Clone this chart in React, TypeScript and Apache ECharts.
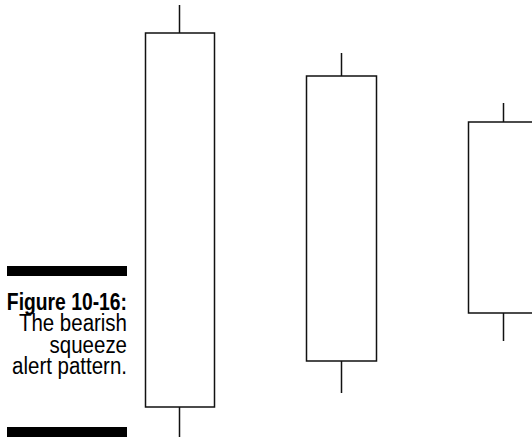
import React, { useEffect, useRef } from "react";
import * as echarts from "echarts";

const categories = ["Day 1", "Day 2", "Day 3"];
// [open, close, low, high]
const candleValues: number[][] = [
  [3.3, 40.7, 0.3, 43.5],
  [7.9, 36.4, 4.7, 38.7],
  [12.7, 31.8, 9.9, 33.7],
];
const captionBold = "Figure 10-16:";
const captionLines = ["The bearish", "squeeze", "alert pattern."];

const FONT = "'Liberation Sans', Arial, Helvetica, sans-serif";

export default function App() {
  const ref = useRef<HTMLDivElement>(null);
  useEffect(() => {
    if (!ref.current) return;
    const chart = echarts.init(ref.current, undefined, { renderer: "svg" });
    const mk = (t: string, y: number, bold: boolean) => ({
      type: "text",
      x: 127,
      y,
      scaleX: bold ? 0.84 : 0.89,
      style: {
        text: t,
        x: 0,
        y: 0,
        textAlign: "right",
        textVerticalAlign: "middle",
        fontFamily: FONT,
        fontWeight: bold ? "bold" : "normal",
        fontSize: 23,
        fill: "#000",
      },
    });
    const textEls: any[] = [
      mk(captionBold, 302, true),
      ...captionLines.map((t, i) => mk(t, 323.5 + i * 21.5, false)),
    ];
    chart.setOption({
      animation: false,
      backgroundColor: "#fff",
      grid: { left: 180, right: 28.6, top: 0, bottom: 0 },
      xAxis: {
        type: "category",
        data: categories,
        show: false,
        boundaryGap: false,
      },
      yAxis: { type: "value", min: 0, max: 44, show: false },
      series: [
        {
          type: "candlestick",
          data: candleValues,
          barWidth: 70,
          clip: false,
          itemStyle: {
            color: "#fff",
            color0: "#fff",
            borderColor: "#111",
            borderColor0: "#111",
            borderWidth: 1.5,
          },
        },
      ],
      graphic: [
        { type: "rect", shape: { x: 7, y: 266, width: 120, height: 10 }, style: { fill: "#000" } },
        { type: "rect", shape: { x: 7, y: 427, width: 120, height: 10 }, style: { fill: "#000" } },
        ...textEls,
      ],
    });
    return () => chart.dispose();
  }, []);
  return (
    <div
      ref={ref}
      style={{ position: "fixed", left: 0, top: 0, width: 532, height: 440 }}
    />
  );
}
